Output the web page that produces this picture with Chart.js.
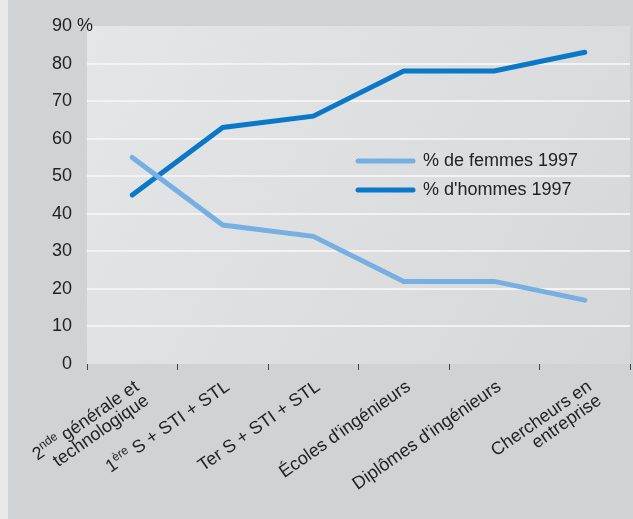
<!DOCTYPE html>
<html>
<head>
<meta charset="utf-8">
<script src="https://cdn.jsdelivr.net/npm/chart.js@4"></script>
<style>
  body { margin: 0; background: #e8e8e8; }
  canvas { display: block; }
</style>
</head>
<body>
<canvas id="chart" width="633" height="519"></canvas>
<script>
// Category labels (lines, ^{...} = superscript)
const categories = [
    ['2^{nde} générale et', 'technologique'],
    ['1^{ère} S + STI + STL'],
    ['Ter S + STI + STL'],
    ['Écoles d\'ingénieurs'],
    ['Diplômes d\'ingénieurs'],
    ['Chercheurs en', 'entreprise']
];

// Series values (%)
const femmes = [55, 37, 34, 22, 22, 17];
const hommes = [45, 63, 66, 78, 78, 83];

const seriesNames = ['% de femmes 1997', '% d\'hommes 1997'];
const seriesColors = ['#76afe2', '#0a78c8'];

// y ticks
const yMin = 0, yMax = 90, yStep = 10;

const FONT = '"Liberation Sans", Arial, sans-serif';

// Split "2^{nde} text" into segments
function parseSegments(line) {
    const parts = [];
    const re = /\^\{([^}]*)\}/g;
    let last = 0, m;
    while ((m = re.exec(line)) !== null) {
        if (m.index > last) parts.push({ text: line.slice(last, m.index), sup: false });
        parts.push({ text: m[1], sup: true });
        last = re.lastIndex;
    }
    if (last < line.length) parts.push({ text: line.slice(last), sup: false });
    return parts;
}

// Background panel + plot area
const backgroundPlugin = {
    id: 'background',
    beforeDraw(chart) {
        const { ctx, chartArea: a, width, height } = chart;
        ctx.save();
        ctx.fillStyle = '#e9e9e9';
        ctx.fillRect(0, 0, width, height);
        ctx.fillStyle = '#d1d2d4';
        ctx.fillRect(8, 0, width - 8, height);
        const g = ctx.createLinearGradient(a.left, a.top, a.right, a.bottom);
        g.addColorStop(0, '#e7e8e9');
        g.addColorStop(1, '#d8d9db');
        ctx.fillStyle = g;
        ctx.fillRect(a.left, a.top, a.right - a.left, a.bottom - a.top);
        // fine diagonal hatching
        ctx.beginPath();
        ctx.rect(a.left, a.top, a.right - a.left, a.bottom - a.top);
        ctx.clip();
        ctx.strokeStyle = 'rgba(0,0,0,0.025)';
        ctx.lineWidth = 1;
        const h = a.bottom - a.top;
        for (let x = a.left - h; x < a.right; x += 3) {
            ctx.beginPath();
            ctx.moveTo(x, a.top);
            ctx.lineTo(x + h, a.bottom);
            ctx.stroke();
        }
        ctx.restore();
    }
};

// Rotated category labels with superscripts
const xLabelsPlugin = {
    id: 'xLabels',
    afterDraw(chart) {
        const { ctx } = chart;
        const xs = chart.scales.x;
        const base = chart.chartArea.bottom + 21;
        const angle = -35 * Math.PI / 180;
        const size = 18, supSize = 12, lineH = 17;
        ctx.save();
        ctx.fillStyle = '#222';
        ctx.textBaseline = 'middle';
        ctx.textAlign = 'left';
        categories.forEach((lines, i) => {
            const x = xs.getPixelForValue(i) + 5;
            ctx.save();
            ctx.translate(x, base);
            ctx.rotate(angle);
            lines.forEach((line, li) => {
                const segs = parseSegments(line);
                let total = 0;
                segs.forEach(s => {
                    ctx.font = (s.sup ? supSize : size) + 'px ' + FONT;
                    s.w = ctx.measureText(s.text).width;
                    total += s.w;
                });
                let cx = -total;
                segs.forEach(s => {
                    ctx.font = (s.sup ? supSize : size) + 'px ' + FONT;
                    ctx.fillText(s.text, cx, li * lineH + (s.sup ? -5 : 0));
                    cx += s.w;
                });
            });
            ctx.restore();
        });
        ctx.restore();
    }
};

// "%" after the top tick + legend inside the plot
const extrasPlugin = {
    id: 'extras',
    afterDraw(chart) {
        const { ctx, chartArea: a } = chart;
        const ys = chart.scales.y;
        ctx.save();
        ctx.font = '18px ' + FONT;
        ctx.fillStyle = '#222';
        ctx.textBaseline = 'middle';
        ctx.textAlign = 'left';
        ctx.fillText(' %', a.left - 15, ys.getPixelForValue(yMax));

        const lx = a.left + 271, ly = a.top + 135;
        seriesNames.forEach((name, i) => {
            const y = ly + i * 29;
            ctx.strokeStyle = seriesColors[i];
            ctx.lineWidth = 5;
            ctx.lineCap = 'round';
            ctx.beginPath();
            ctx.moveTo(lx, y);
            ctx.lineTo(lx + 55, y);
            ctx.stroke();
            ctx.fillText(name, lx + 65, y);
        });
        ctx.restore();
    }
};

new Chart(document.getElementById('chart'), {
    type: 'line',
    data: {
        labels: categories.map(l => l.join(' ')),
        datasets: [
            {
                label: seriesNames[0],
                data: femmes,
                borderColor: seriesColors[0],
                borderWidth: 5,
                borderCapStyle: 'round',
                pointRadius: 0,
                tension: 0
            },
            {
                label: seriesNames[1],
                data: hommes,
                borderColor: seriesColors[1],
                borderWidth: 5,
                borderCapStyle: 'round',
                pointRadius: 0,
                tension: 0
            }
        ]
    },
    options: {
        responsive: false,
        animation: false,
        layout: { padding: { top: 26, right: 3, left: 0, bottom: 0 } },
        plugins: {
            legend: { display: false },
            tooltip: { enabled: false }
        },
        scales: {
            x: {
                offset: true,
                grid: {
                    offset: true,
                    drawOnChartArea: false,
                    drawTicks: true,
                    tickLength: 6,
                    color: '#444',
                    lineWidth: 1
                },
                border: { display: false },
                ticks: { display: false },
                afterFit(s) { s.height = 155; }
            },
            y: {
                min: yMin,
                max: yMax,
                ticks: {
                    stepSize: yStep,
                    padding: 15,
                    color: '#222',
                    font: { family: FONT, size: 18 }
                },
                grid: {
                    drawTicks: false,
                    color: ctx => ctx.tick && (ctx.tick.value === yMin || ctx.tick.value === yMax) ? 'rgba(0,0,0,0)' : '#f3f3f3',
                    lineWidth: 2
                },
                border: { display: false },
                afterFit(s) { s.width = 87; }
            }
        }
    },
    plugins: [backgroundPlugin, xLabelsPlugin, extrasPlugin]
});
</script>
</body>
</html>
